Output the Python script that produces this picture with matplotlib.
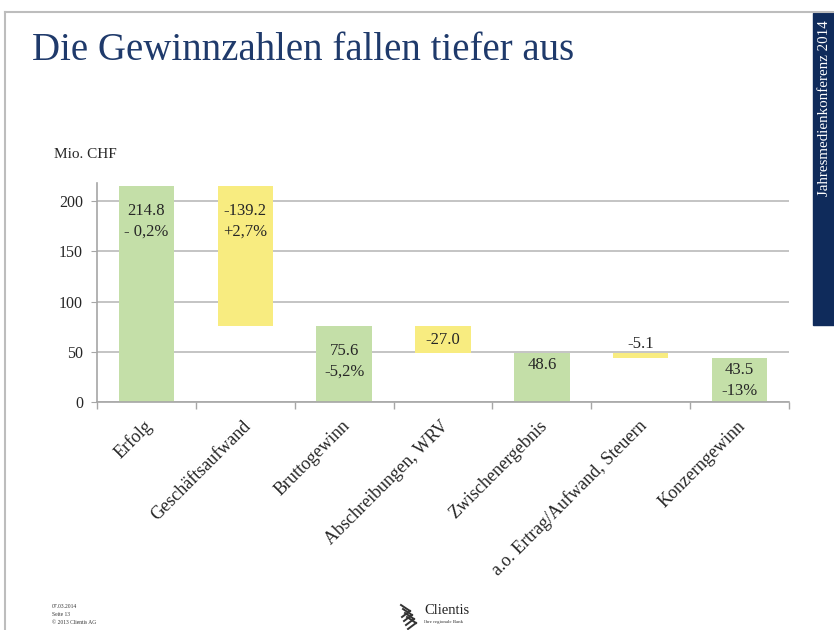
import matplotlib
matplotlib.use("Agg")
import matplotlib.pyplot as plt
import matplotlib.transforms as mtrans
from matplotlib.patches import Rectangle
from matplotlib.lines import Line2D

categories = ["Erfolg", "Geschäftsaufwand", "Bruttogewinn", "Abschreibungen, WRV",
              "Zwischenergebnis", "a.o. Ertrag/Aufwand, Steuern", "Konzerngewinn"]
bar_bottom = [0, 75.6, 0, 48.6, 0, 43.5, 0]
bar_top = [214.8, 214.8, 75.6, 75.6, 48.6, 48.6, 43.5]
bar_kind = ["total", "delta", "total", "delta", "total", "delta", "total"]
value_labels = ["214.8\n- 0,2%", "-139.2\n+2,7%", "75.6\n-5,2%", "-27.0", "48.6", "-5.1", "43.5\n-13%"]
yticks = [0, 50, 100, 150, 200]

GREEN = "#C4DFA8"
YELLOW = "#F8EC80"
NAVY = "#0F2B5B"
SERIF = ["Liberation Serif", "DejaVu Serif"]
TXT = "#262626"
LFS = 12

fig = plt.figure(figsize=(8.34, 6.30), dpi=100)
W, H = 834, 630

def fx(px):
    return px / W

def fy(py):
    return 1 - py / H

# slide frame
fig.add_artist(Line2D([fx(5), 1], [fy(12), fy(12)], color="#BDBDBD", lw=1.5))
fig.add_artist(Line2D([fx(5), fx(5)], [fy(12), 0], color="#BDBDBD", lw=1.5))
fig.add_artist(Rectangle((fx(813), fy(325)), fx(21), fy(13) - fy(325), color=NAVY))
fig.text(fx(824), fy(20), "Jahresmedienkonferenz 2014", rotation=90, color="white",
         ha="center", va="top", fontsize=10.8, family=SERIF)

fig.text(fx(32), fy(50), "Die Gewinnzahlen fallen tiefer aus", color="#1F3A6B",
         fontsize=28, family=SERIF, ha="left", va="center")
fig.text(fx(54), fy(155), "Mio. CHF", color=TXT, fontsize=11, family=SERIF,
         ha="left", va="center")

ax = fig.add_axes([fx(97), fy(402), fx(789) - fx(97), fy(183) - fy(402)])
ax.set_xlim(-0.5, len(categories) - 0.5)
ax.set_ylim(0, 218)

x = list(range(len(categories)))
heights = [t - b for t, b in zip(bar_top, bar_bottom)]
colors = [GREEN if k == "total" else YELLOW for k in bar_kind]
ax.bar(x, heights, bottom=bar_bottom, width=0.56, color=colors, zorder=2)

for i, lab in enumerate(value_labels):
    top = bar_top[i]
    h = heights[i]
    if h < 10:
        ax.annotate(lab, (i, top), xytext=(0, 1), textcoords="offset points",
                    ha="center", va="bottom", fontsize=LFS, family=SERIF, color=TXT)
    elif h < 30 and bar_kind[i] == "delta":
        ax.annotate(lab, (i, (bar_top[i] + bar_bottom[i]) / 2), ha="center",
                    va="center", fontsize=LFS, family=SERIF, color=TXT)
    else:
        off = -12 if h > 60 else -3
        ax.annotate(lab, (i, top), xytext=(0, off), textcoords="offset points",
                    ha="center", va="top", fontsize=LFS, family=SERIF, color=TXT,
                    linespacing=1.4)

ax.set_yticks(yticks)
ax.set_yticklabels([str(v) for v in yticks], fontsize=11.5, family=SERIF, color=TXT)
ax.yaxis.grid(True, color="#BFBFBF", lw=1.3, zorder=0)
ax.set_axisbelow(True)

ax.set_xticks(x)
ax.set_xticklabels(categories, rotation=45, ha="right", va="top",
                   rotation_mode="anchor", fontsize=13, family=SERIF, color=TXT)
ax.tick_params(axis="x", length=0, pad=11)
ax.set_xticks([i - 0.5 for i in range(len(categories) + 1)], minor=True)
ax.tick_params(axis="x", which="minor", length=5, color="#A6A6A6", width=1)
ax.tick_params(axis="y", length=4, color="#A6A6A6", pad=6)
offset = mtrans.ScaledTranslation(-3 / 100, 0, fig.dpi_scale_trans)
for lab in ax.get_xticklabels():
    lab.set_transform(lab.get_transform() + offset)

for s in ["top", "right"]:
    ax.spines[s].set_visible(False)
ax.spines["left"].set_color("#A6A6A6")
ax.spines["bottom"].set_color("#A6A6A6")
ax.spines["left"].set_linewidth(1.2)
ax.spines["bottom"].set_linewidth(1.2)

# footer
fig.text(fx(52), fy(606), "07.03.2014", fontsize=4, family=SERIF, color="#333333", va="center")
fig.text(fx(52), fy(614), "Seite 13", fontsize=4, family=SERIF, color="#333333", va="center")
fig.text(fx(52), fy(623), "© 2013 Clientis AG", fontsize=4, family=SERIF, color="#333333", va="center")
for k in range(4):
    fig.add_artist(Line2D([fx(401 + k * 2), fx(410 + k * 2)], [fy(605 + k * 4), fy(611 + k * 4)],
                          color="#333333", lw=1.4))
    fig.add_artist(Line2D([fx(410 + k * 2), fx(402 + k * 2)], [fy(611 + k * 4), fy(617 + k * 4)],
                          color="#333333", lw=1.4))
fig.text(fx(424), fy(611), "Clientis", fontsize=10.5, family=SERIF, color="#222222",
         va="center", ha="left")
fig.text(fx(424), fy(622), "Ihre regionale Bank", fontsize=3.5, family=SERIF,
         color="#333333", va="center", ha="left")

fig.savefig("out.png", dpi=100)
